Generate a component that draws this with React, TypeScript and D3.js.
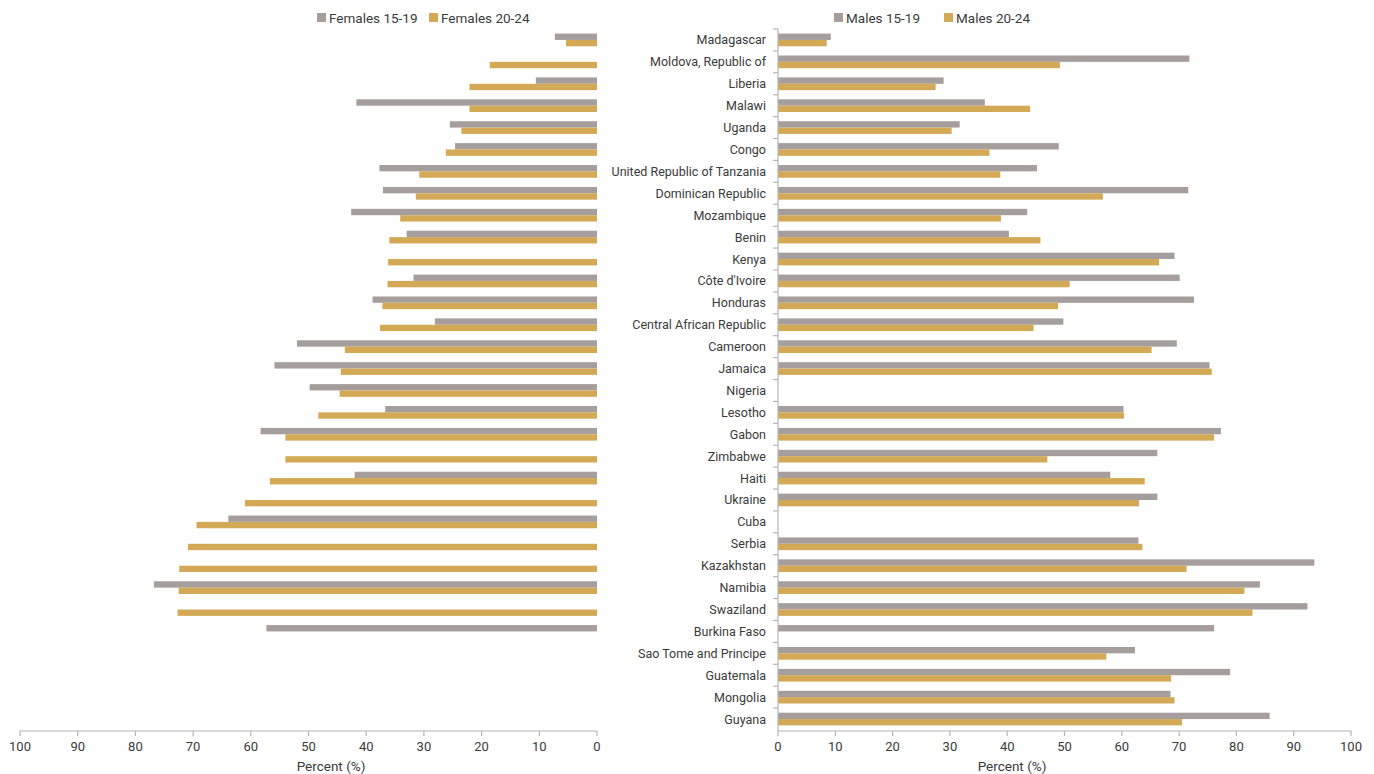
import React from "react";
import * as d3 from "d3";

const countries = [
  "Madagascar", "Moldova, Republic of", "Liberia", "Malawi", "Uganda", "Congo",
  "United Republic of Tanzania", "Dominican Republic", "Mozambique", "Benin", "Kenya",
  "Côte d'Ivoire", "Honduras", "Central African Republic", "Cameroon", "Jamaica",
  "Nigeria", "Lesotho", "Gabon", "Zimbabwe", "Haiti", "Ukraine", "Cuba", "Serbia",
  "Kazakhstan", "Namibia", "Swaziland", "Burkina Faso", "Sao Tome and Principe",
  "Guatemala", "Mongolia", "Guyana",
];

const females1519: (number | null)[] = [
  7.3, null, 10.6, 41.7, 25.5, 24.6, 37.7, 37.1, 42.6, 33.0, null,
  31.8, 38.9, 28.1, 52.0, 55.9, 49.8, 36.7, 58.3, null, 42.0, null,
  63.9, null, null, 76.8, null, 57.3, null, null, null, null,
];
const females2024: (number | null)[] = [
  5.4, 18.6, 22.1, 22.1, 23.5, 26.2, 30.8, 31.4, 34.1, 36.0, 36.2,
  36.3, 37.2, 37.6, 43.7, 44.4, 44.6, 48.3, 54.0, 54.0, 56.7, 61.0,
  69.4, 70.9, 72.4, 72.5, 72.7, null, null, null, null, null,
];
const males1519: (number | null)[] = [
  9.2, 71.8, 28.9, 36.1, 31.7, 49.0, 45.2, 71.6, 43.5, 40.3, 69.2,
  70.1, 72.6, 49.8, 69.6, 75.3, null, 60.3, 77.3, 66.2, 58.0, 66.2,
  null, 62.9, 93.6, 84.1, 92.4, 76.1, 62.3, 78.9, 68.5, 85.8,
];
const males2024: (number | null)[] = [
  8.5, 49.2, 27.5, 44.0, 30.3, 36.9, 38.8, 56.7, 38.9, 45.8, 66.5,
  50.9, 48.9, 44.6, 65.2, 75.7, null, 60.4, 76.1, 47.0, 64.0, 63.0,
  null, 63.6, 71.3, 81.4, 82.8, null, 57.3, 68.6, 69.2, 70.5,
];

const xTicks = [0, 10, 20, 30, 40, 50, 60, 70, 80, 90, 100];
const femaleLegend = ["Females 15-19", "Females 20-24"];
const maleLegend = ["Males 15-19", "Males 20-24"];

const GRAY = "#a59e9c";
const GOLD = "#d4a955";
const AXIS = "#b5b5b5";
const TEXT = "#3a3a3a";
const FONT = "Roboto, 'Open Sans', sans-serif";

export default function App() {
  const y = d3.scaleBand<string>().domain(countries).range([29, 730]).padding(0);
  const bw = y.step() * 0.29;
  const xL = d3.scaleLinear().domain([100, 0]).range([20, 597]);
  const xR = d3.scaleLinear().domain([0, 100]).range([778, 1351]);
  const axisY = 731;

  const barsLeft = countries.map((c, i) => {
    const cy = (y(c) as number) + y.step() / 2;
    const out: React.ReactNode[] = [];
    const g = females1519[i];
    const o = females2024[i];
    if (g != null)
      out.push(<rect key={c + "g"} x={xL(g)} y={cy - bw} width={xL(0) - xL(g)} height={bw} fill={GRAY} />);
    if (o != null)
      out.push(<rect key={c + "o"} x={xL(o)} y={cy} width={xL(0) - xL(o)} height={bw} fill={GOLD} />);
    return out;
  });

  const barsRight = countries.map((c, i) => {
    const cy = (y(c) as number) + y.step() / 2;
    const out: React.ReactNode[] = [];
    const g = males1519[i];
    const o = males2024[i];
    if (g != null)
      out.push(<rect key={c + "g"} x={xR(0)} y={cy - bw} width={xR(g) - xR(0)} height={bw} fill={GRAY} />);
    if (o != null)
      out.push(<rect key={c + "o"} x={xR(0)} y={cy} width={xR(o) - xR(0)} height={bw} fill={GOLD} />);
    return out;
  });

  const xAxis = (sc: d3.ScaleLinear<number, number>, key: string, labelX: number) => (
    <g key={key}>
      <line x1={sc.range()[0]} x2={sc.range()[1]} y1={axisY} y2={axisY} stroke={AXIS} strokeWidth={1.2} />
      {xTicks.map((t) => (
        <g key={t}>
          <line x1={sc(t)} x2={sc(t)} y1={axisY} y2={axisY + 5} stroke={AXIS} strokeWidth={1.2} />
          <text x={sc(t)} y={751} textAnchor="middle" fontSize={13} fill={TEXT} fontFamily={FONT}>
            {t}
          </text>
        </g>
      ))}
      <text x={labelX} y={771} textAnchor="middle" fontSize={13.5} fill={TEXT} fontFamily={FONT}>
        Percent (%)
      </text>
    </g>
  );

  const legend = (labels: string[], xs: number[]) =>
    labels.map((l, i) => (
      <g key={l}>
        <rect x={xs[i]} y={13} width={9} height={9} fill={i === 0 ? GRAY : GOLD} />
        <text x={xs[i] + 12} y={22.5} fontSize={13.5} fill={TEXT} fontFamily={FONT}>
          {l}
        </text>
      </g>
    ));

  return (
    <svg width={1374} height={774} style={{ position: "absolute", left: 0, top: 0, background: "#fff" }}>
      {legend(femaleLegend, [317, 429])}
      {legend(maleLegend, [834, 944])}
      {barsLeft}
      {barsRight}
      {xAxis(xL, "l", 331)}
      {xAxis(xR, "r", 1012)}
      <line x1={xR(0)} x2={xR(0)} y1={y.range()[0]} y2={axisY} stroke={AXIS} strokeWidth={1.2} />
      {countries.map((c) => (
        <line key={c + "t"} x1={xR(0) - 5} x2={xR(0)} y1={y(c) as number} y2={y(c) as number} stroke={AXIS} strokeWidth={1.2} />
      ))}
      {countries.map((c) => (
        <text
          key={c + "l"}
          x={766}
          y={(y(c) as number) + y.step() / 2 + 4.5}
          textAnchor="end"
          fontSize={12.5}
          fill={TEXT}
          fontFamily={FONT}
        >
          {c}
        </text>
      ))}
    </svg>
  );
}
